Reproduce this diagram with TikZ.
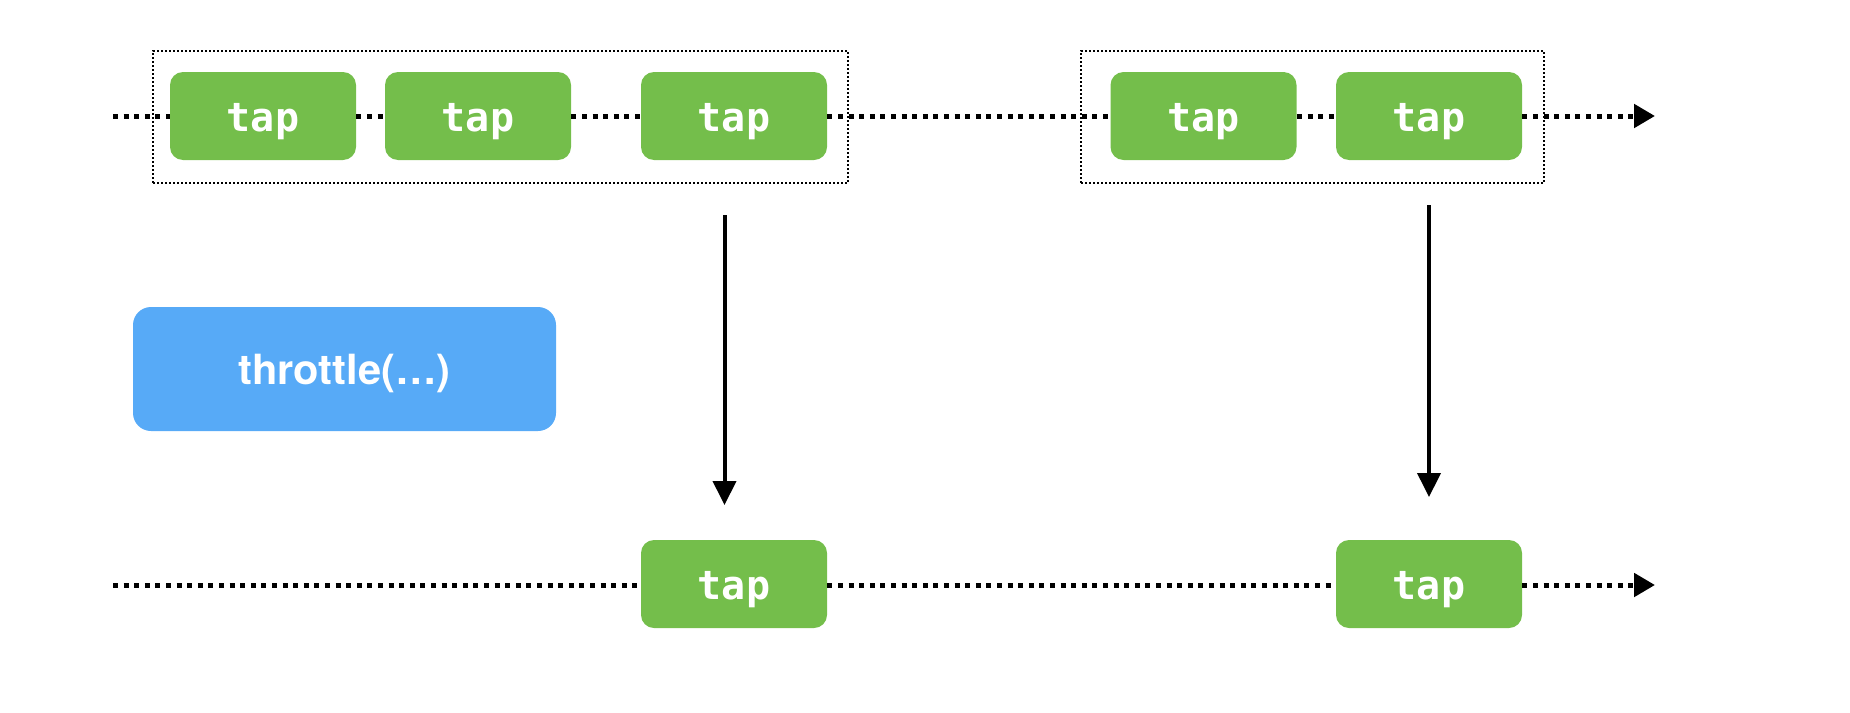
\documentclass[tikz,border=0pt]{standalone}
\usepackage{fontspec}
\setmainfont{TeX Gyre Heros}
\newfontfamily\tapfont{DejaVu Sans Mono}
\usetikzlibrary{arrows.meta}

\definecolor{tapgreen}{HTML}{74BE4B}
\definecolor{opblue}{HTML}{57AAF7}

\begin{document}
\begin{tikzpicture}[x=0.5pt, y=-0.5pt,
  tapbox/.style={fill=tapgreen, rounded corners=6.5pt, minimum width=93pt,
    minimum height=44pt, inner sep=0pt, text=white,
    text height=15.5pt, text depth=0pt,
    font=\tapfont\bfseries\fontsize{20}{24}\selectfont},
  opbox/.style={fill=opblue, rounded corners=9pt, minimum width=211.5pt,
    minimum height=62pt, inner sep=0pt, text=white,
    text height=15pt, text depth=0pt,
    font=\bfseries\fontsize{20.8}{24}\selectfont},
  timeline/.style={line width=2.5pt, dash pattern=on 2.5pt off 2.8pt},
  timelineend/.style={timeline, -{Triangle[length=10.5pt, width=11.5pt]}},
  window/.style={draw, line width=0.9pt, dash pattern=on 1pt off 1pt,
    inner sep=0pt},
  emit/.style={line width=2pt, -{Triangle[length=12pt, width=11.5pt]}}
]
  % canvas
  \path[use as bounding box] (0,0) rectangle (1850,712);

  % source events
  \node[tapbox] (t1) at (263,116) {tap};
  \node[tapbox] (t2) at (478,116) {tap};
  \node[tapbox] (t3) at (734,116) {tap};
  \node[tapbox] (t4) at (1203.5,116) {tap};
  \node[tapbox] (t5) at (1429,116) {tap};

  % throttled events
  \node[tapbox] (b1) at (734,584) {tap};
  \node[tapbox] (b2) at (1429,584) {tap};

  % operator label
  \node[opbox] (op) at (344.5,369) {throttle(\ldots)};

  % throttle windows
  \node[window, minimum width=347.5pt, minimum height=66pt] (w1) at (500.5,117) {};
  \node[window, minimum width=231.5pt, minimum height=66pt] (w2) at (1312.5,117) {};

  % timeline ends
  \coordinate (s1) at (113,116);
  \coordinate (e1) at (1655,116);
  \coordinate (s2) at (113,585);
  \coordinate (e2) at (1655,585);

  % top timeline
  \draw[timeline] (s1) -- (t1.west);
  \draw[timeline] (t1.east) -- (t2.west);
  \draw[timeline] (t2.east) -- (t3.west);
  \draw[timeline] (t3.east) -- (t4.west);
  \draw[timeline] (t4.east) -- (t5.west);
  \draw[timelineend] (t5.east) -- (e1);

  % bottom timeline
  \draw[timeline] (s2) -- (b1.west |- s2);
  \draw[timeline] (b1.east |- s2) -- (b2.west |- s2);
  \draw[timelineend] (b2.east |- s2) -- (e2);

  % emission arrows
  \coordinate (a1s) at (724.5,215);
  \coordinate (a1e) at (724.5,505);
  \coordinate (a2s) at (1429,205);
  \coordinate (a2e) at (1429,497);
  \draw[emit] (a1s) -- (a1e);
  \draw[emit] (a2s) -- (a2e);
\end{tikzpicture}
\end{document}
